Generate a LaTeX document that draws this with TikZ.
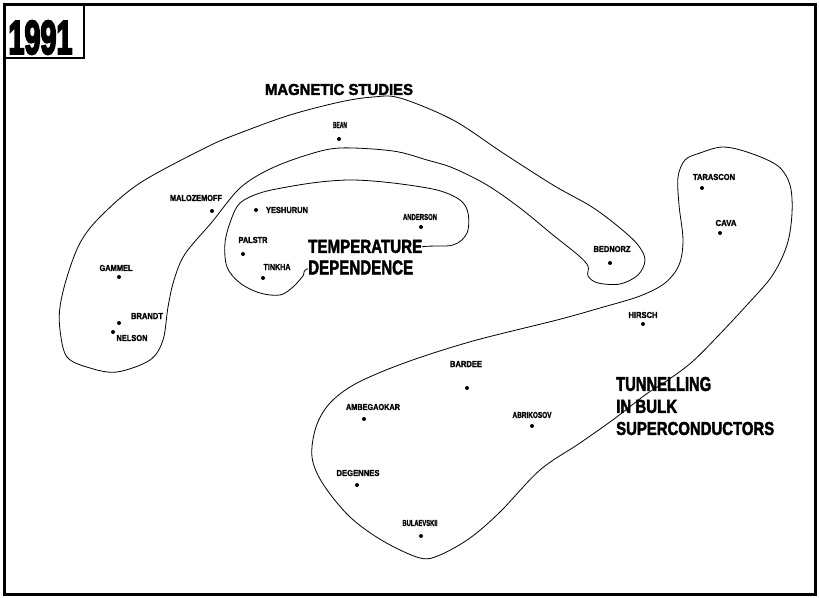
\documentclass[tikz,border=0pt]{standalone}
\usepackage{fontspec}
\usepackage{graphicx}
\setmainfont{Liberation Sans}
\newfontfamily\titlefont{Liberation Sans}[FakeBold=2.5]
\newfontfamily\yearfont{Liberation Sans}[FakeBold=5]
\newfontfamily\namefont{Liberation Sans}[FakeBold=1.5]
% squeeze a caps label into a given width and cap height
\newcommand{\sizedtext}[3]{\resizebox{#1pt}{#2pt}{\titlefont\bfseries #3}}
\newcommand{\nm}[2]{\resizebox{#1pt}{6pt}{\namefont\bfseries #2}}
\begin{document}
\begin{tikzpicture}[x=1pt,y=-1pt,
  authordot/.style={circle,fill=black,inner sep=0pt,minimum size=4pt},
  authorlabel/.style={inner sep=0pt},
  clustertitle/.style={inner sep=0pt},
  outline/.style={line width=0.8pt,black},
  frame/.style={line width=3pt,black}]
\useasboundingbox (0,0) rectangle (819,597);

% frame and year box
\draw[frame] (4.5,4.5) rectangle (815.5,594.5);
\draw[line width=2pt] (4.5,4.5) rectangle (84,58);
\node[clustertitle] (year) at (40.5,37.5) {\resizebox{64pt}{33pt}{\yearfont\bfseries 1991}};

% cluster outlines
\draw[outline] plot[smooth cycle,tension=0.55] coordinates {
  (100,217) (140,183) (207,147) (240,133) (290,115) (340,102) (373,97)
  (400,98) (453,120) (503,153) (553,185) (592,207) (620,228) (638,245)
  (645,260) (638,275) (620,284) (598,283) (588,276) (588,266) (578,255)
  (553,235) (520,208) (487,185) (453,168) (427,160) (393,151) (340,148)
  (307,155) (270,169) (240,188) (212,222) (185,254) (174,280) (168,307)
  (163,340) (150,360) (117,372) (90,368) (67,357) (60,330) (60,307)
  (67,277) (80,243)};

\draw[outline] plot[smooth cycle,tension=0.55] coordinates {
  (240,203) (260,193) (287,187) (320,182) (353,180) (393,183) (437,190)
  (460,200) (468,213) (467,233) (453,245) (420,247) (365,258) (310,268)
  (303,276) (293,287) (280,295) (260,293) (240,283) (227,267) (225,243)
  (231,220)};

\draw[outline] plot[smooth cycle,tension=0.55] coordinates {
  (700,153) (723,147) (750,153) (778,166) (790,185) (792,213) (787,245)
  (772,276) (746,306) (718,336) (692,362) (668,380) (645,395) (614,419)
  (580,443) (540,470) (500,512) (470,538) (440,555) (420,558) (383,541)
  (350,517) (323,484) (312,457) (316,427) (330,403) (357,383) (407,362)
  (473,341) (557,320) (600,308) (640,296) (665,283) (679,265) (683,240)
  (679,205) (678,177) (685,160)};

% cluster titles
\node[clustertitle,anchor=center] (mag) at (339,89.5) {\sizedtext{148}{11}{MAGNETIC STUDIES}};
\node[clustertitle,anchor=west,fill=white,inner ysep=4pt] (temp) at (308,246.5) {\sizedtext{114}{13}{TEMPERATURE}};
\node[clustertitle,anchor=west,fill=white,inner ysep=4pt] (dep) at (308,267.5) {\sizedtext{105}{14}{DEPENDENCE}};
\node[clustertitle,anchor=west] (tun) at (616,384) {\sizedtext{95}{14}{TUNNELLING}};
\node[clustertitle,anchor=west] (bulk) at (616,406.5) {\sizedtext{61}{13}{IN BULK}};
\node[clustertitle,anchor=west] (sup) at (616,428.5) {\sizedtext{158}{13}{SUPERCONDUCTORS}};

% authors
\node[authordot] (bean) at (339,139) {};
\node[authorlabel] (bean-t) at (340,125) {\nm{14}{BEAN}};
\node[authordot] (malozemoff) at (212,211) {};
\node[authorlabel] (malozemoff-t) at (196,198) {\nm{52}{MALOZEMOFF}};
\node[authordot] (yeshurun) at (256,210) {};
\node[authorlabel] (yeshurun-t) at (287,210) {\nm{42}{YESHURUN}};
\node[authordot] (palstra) at (243,254) {};
\node[authorlabel] (palstra-t) at (253,240) {\nm{29}{PALSTR}};
\node[authordot] (tinkham) at (263,278) {};
\node[authorlabel] (tinkham-t) at (277,267) {\nm{27}{TINKHA}};
\node[authordot] (anderson) at (421,227) {};
\node[authorlabel] (anderson-t) at (420,217) {\nm{34}{ANDERSON}};
\node[authordot] (gammel) at (119,277) {};
\node[authorlabel] (gammel-t) at (116,268) {\nm{33}{GAMMEL}};
\node[authordot] (brandt) at (119,323) {};
\node[authorlabel] (brandt-t) at (147,316) {\nm{32}{BRANDT}};
\node[authordot] (nelson) at (113,332) {};
\node[authorlabel] (nelson-t) at (132,338) {\nm{31}{NELSON}};
\node[authordot] (bednorz) at (610,263) {};
\node[authorlabel] (bednorz-t) at (612,249) {\nm{37}{BEDNORZ}};
\node[authordot] (tarascon) at (702,188) {};
\node[authorlabel] (tarascon-t) at (714,177) {\nm{42}{TARASCON}};
\node[authordot] (cava) at (720,233) {};
\node[authorlabel] (cava-t) at (726,223) {\nm{21}{CAVA}};
\node[authordot] (hirsch) at (643,324) {};
\node[authorlabel] (hirsch-t) at (643,315) {\nm{29}{HIRSCH}};
\node[authordot] (bardeen) at (467,388) {};
\node[authorlabel] (bardeen-t) at (466,364) {\nm{32}{BARDEE}};
\node[authordot] (ambegaokar) at (364,419) {};
\node[authorlabel] (ambegaokar-t) at (373,407) {\nm{54}{AMBEGAOKAR}};
\node[authordot] (abrikosov) at (532,426) {};
\node[authorlabel] (abrikosov-t) at (532,415) {\nm{39}{ABRIKOSOV}};
\node[authordot] (degennes) at (357,485) {};
\node[authorlabel] (degennes-t) at (358,473) {\nm{43}{DEGENNES}};
\node[authordot] (bulaevskii) at (421,536) {};
\node[authorlabel] (bulaevskii-t) at (420,523) {\nm{35}{BULAEVSKII}};
\end{tikzpicture}
\end{document}
